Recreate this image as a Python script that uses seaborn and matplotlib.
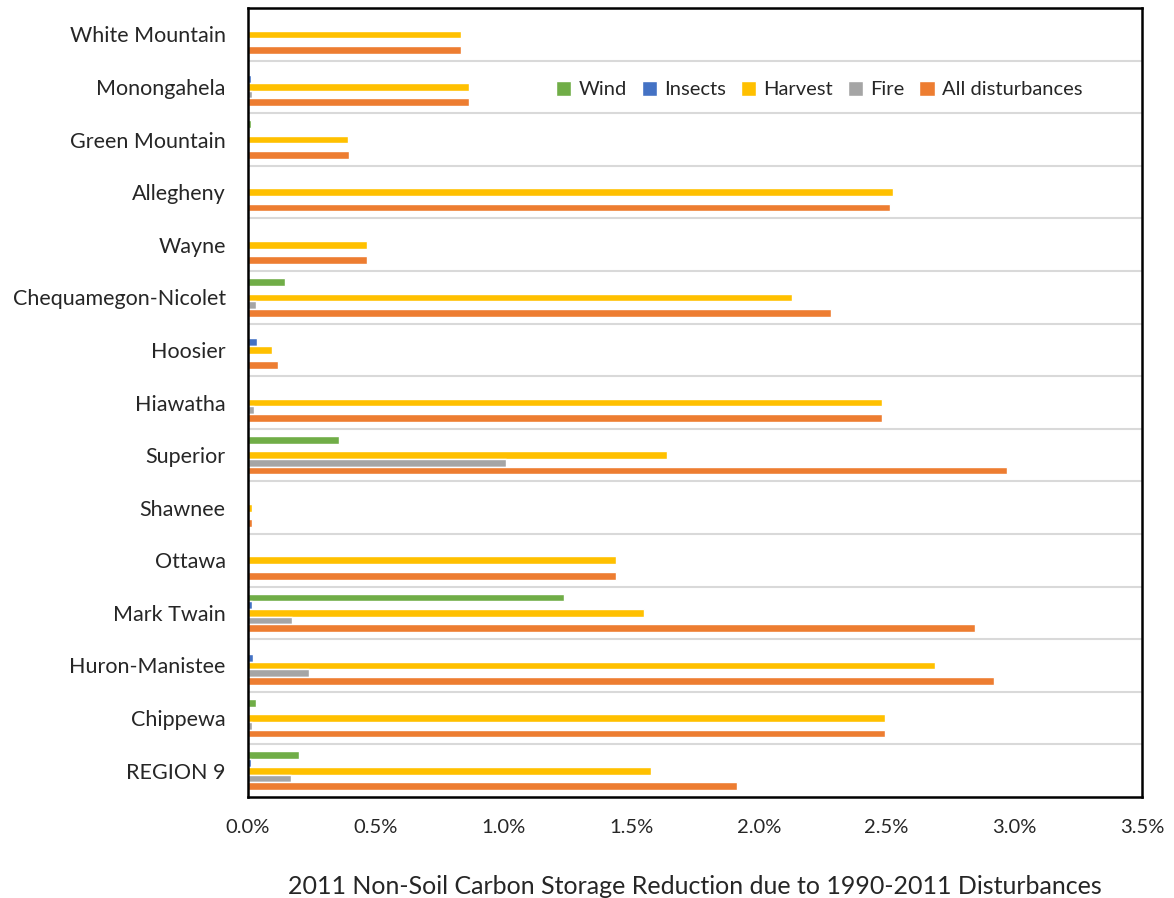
import pandas as pd
import seaborn as sns
import matplotlib.pyplot as plt
from matplotlib.ticker import FuncFormatter, FixedLocator

# --- datos (valores en %) ---
forests = ["White Mountain", "Monongahela", "Green Mountain", "Allegheny", "Wayne",
           "Chequamegon-Nicolet", "Hoosier", "Hiawatha", "Superior", "Shawnee",
           "Ottawa", "Mark Twain", "Huron-Manistee", "Chippewa", "REGION 9"]
series = ["Wind", "Insects", "Harvest", "Fire", "All disturbances"]

wind = [0.0, 0.0, 0.01, 0.0, 0.0, 0.145, 0.0, 0.0, 0.356, 0.0, 0.0, 1.237, 0.0, 0.03, 0.20]
insects = [0.0, 0.01, 0.0, 0.0, 0.0, 0.0, 0.034, 0.0, 0.0, 0.0, 0.0, 0.014, 0.021, 0.0, 0.01]
harvest = [0.836, 0.865, 0.39, 2.527, 0.467, 2.129, 0.093, 2.481, 1.639, 0.014,
           1.44, 1.551, 2.69, 2.494, 1.578]
fire = [0.0, 0.014, 0.0, 0.0, 0.0, 0.03, 0.0, 0.023, 1.01, 0.0, 0.0, 0.172, 0.238, 0.017, 0.168]
all_dist = [0.836, 0.865, 0.396, 2.514, 0.467, 2.283, 0.119, 2.481, 2.971, 0.017,
            1.44, 2.847, 2.922, 2.494, 1.915]

colors = {"Wind": "#70AD47", "Insects": "#4472C4", "Harvest": "#FFC000",
          "Fire": "#A5A5A5", "All disturbances": "#ED7D31"}

values = {"Wind": wind, "Insects": insects, "Harvest": harvest,
          "Fire": fire, "All disturbances": all_dist}
rows = []
for s in series:
    for f, v in zip(forests, values[s]):
        rows.append({"forest": f, "series": s, "value": v})
df = pd.DataFrame(rows)

# --- figura ---
sns.set_style("white")
plt.rcParams["font.family"] = ["Lato", "DejaVu Sans"]

fig = plt.figure(figsize=(11.74, 8.98), dpi=100)
ax = fig.add_axes([0.2112, 0.1125, 0.9727 - 0.2112, 0.991 - 0.1125])

sns.barplot(data=df, y="forest", x="value", hue="series", order=forests,
            hue_order=series, palette=colors, orient="h", width=0.73,
            saturation=1, ax=ax, legend=True)

ax.set_xlim(0, 3.5)
ax.set_ylim(len(forests) - 0.5, -0.5)
ax.set_xticks([0, 0.5, 1.0, 1.5, 2.0, 2.5, 3.0, 3.5])
ax.xaxis.set_major_formatter(FuncFormatter(lambda v, p: f"{v:.1f}%"))
ax.yaxis.set_minor_locator(FixedLocator([i + 0.5 for i in range(len(forests) - 1)]))
ax.grid(True, which="minor", axis="y", color="#D9D9D9", linewidth=1.5)
ax.grid(False, which="major")
ax.set_axisbelow(True)

ax.tick_params(axis="both", which="both", length=0)
ax.tick_params(axis="x", labelsize=14.5, pad=16)
ax.tick_params(axis="y", labelsize=15.5, pad=16)
ax.set_ylabel("")
ax.set_xlabel("2011 Non-Soil Carbon Storage Reduction due to 1990-2011 Disturbances",
              fontsize=18, labelpad=28)

for sp in ax.spines.values():
    sp.set_visible(True)
    sp.set_color("black")
    sp.set_linewidth(1.8)

ax.legend(loc="upper left", bbox_to_anchor=(0.336, 0.918), ncol=5, frameon=False,
          fontsize=14.5, handlelength=0.75, handleheight=0.75, handletextpad=0.35,
          columnspacing=0.75, borderaxespad=0)

fig.savefig("out.png", dpi=100)
